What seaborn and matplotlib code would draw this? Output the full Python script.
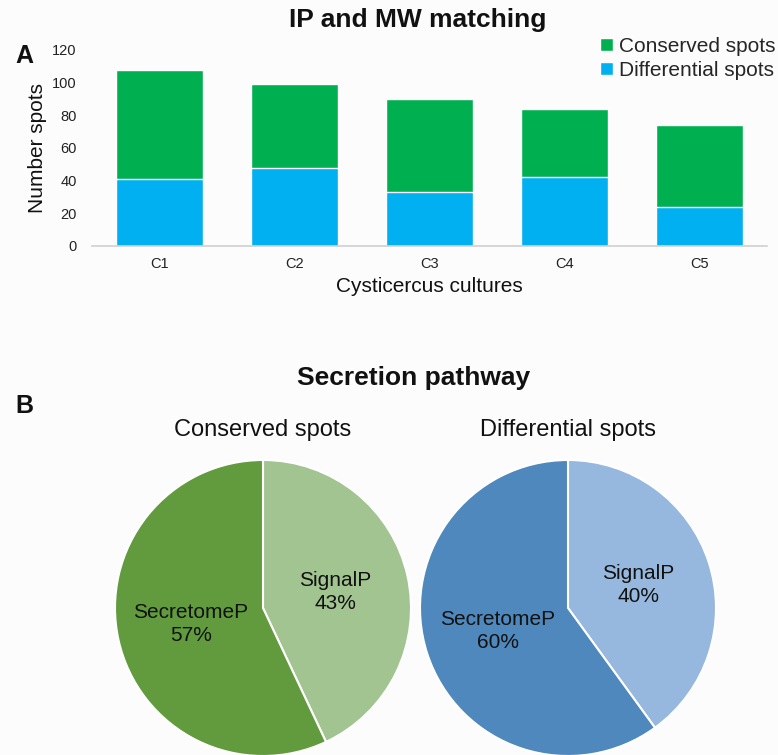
import matplotlib
matplotlib.use("Agg")
import matplotlib.pyplot as plt
import seaborn as sns
import pandas as pd

# Spot counts per cysticercus culture
cultures = ["C1", "C2", "C3", "C4", "C5"]
differential = [41, 48, 33, 42, 24]
conserved = [67, 51, 57, 42, 50]

# Secretion pathway shares (%)
pathways = ["SignalP", "SecretomeP"]
conserved_share = [43, 57]
differential_share = [40, 60]

sns.set_theme(style="white")
plt.rcParams["font.family"] = ["Liberation Sans", "DejaVu Sans"]

BG = "#fcfcfc"
fig = plt.figure(figsize=(7.78, 7.55), dpi=100, facecolor=BG)

# ---- Panel A: stacked bars ----
df = pd.DataFrame({
    "culture": cultures,
    "Differential spots": differential,
    "Conserved spots": conserved,
})
df["total"] = df["Differential spots"] + df["Conserved spots"]

axA = fig.add_axes([92 / 778, 1 - 246 / 755, 675 / 778, 196 / 755], facecolor=BG)
sns.barplot(data=df, x="culture", y="total", color="#00b050", width=0.64,
            saturation=1, ax=axA, label="Conserved spots")
sns.barplot(data=df, x="culture", y="Differential spots", color="#00b0f0",
            width=0.64, saturation=1, ax=axA, label="Differential spots")
axA.set_ylim(0, 120)
axA.set_yticks(range(0, 121, 20))
axA.tick_params(axis="both", labelsize=10.5, length=0, colors="#222222")
axA.tick_params(axis="y", pad=11)
axA.tick_params(axis="x", pad=8)
for s in ["top", "right", "left"]:
    axA.spines[s].set_visible(False)
axA.spines["bottom"].set_color("#d0d0d0")
axA.spines["bottom"].set_linewidth(1.2)
axA.set_xlabel("Cysticercus cultures", fontsize=15, labelpad=4, color="#111111")
axA.set_ylabel("Number spots", fontsize=15, labelpad=4, color="#111111")
leg = axA.legend(loc="upper right", bbox_to_anchor=(1.025, 1.11), frameon=False,
                 fontsize=15, handlelength=0.6, handleheight=0.6,
                 handletextpad=0.3, labelspacing=0.25, borderaxespad=0)

fig.text(418 / 778, 1 - 20 / 755, "IP and MW matching", ha="center", va="center",
         fontsize=19, fontweight="bold", color="#111111")
fig.text(24 / 778, 1 - 56 / 755, "A", ha="center", va="center",
         fontsize=18, fontweight="bold", color="#111111")

# ---- Panel B: pies ----
fig.text(414 / 778, 1 - 378 / 755, "Secretion pathway", ha="center", va="center",
         fontsize=19, fontweight="bold", color="#111111")
fig.text(24 / 778, 1 - 406 / 755, "B", ha="center", va="center",
         fontsize=18, fontweight="bold", color="#111111")


def draw_pie(cx, title, shares, colors):
    r = 148
    ax = fig.add_axes([(cx - r) / 778, 1 - (608 + r) / 755, 2 * r / 778, 2 * r / 755])
    ax.set_facecolor(BG)
    labels = [f"{n}\n{v}%" for n, v in zip(pathways, shares)]
    ax.pie(shares, labels=labels, colors=colors, startangle=90,
           counterclock=False, labeldistance=0.5,
           wedgeprops=dict(edgecolor="white", linewidth=1.5),
           textprops=dict(fontsize=15, color="#111111",
                          ha="center", va="center",
                          multialignment="center", linespacing=1.3))
    ax.set_xlim(-1.0, 1.0)
    ax.set_ylim(-1.0, 1.0)
    ax.set_aspect("equal")
    fig.text(cx / 778, 1 - 430 / 755, title, ha="center", va="center",
             fontsize=17, color="#111111")
    return ax


draw_pie(263, "Conserved spots", conserved_share, ["#a1c490", "#629b3e"])
draw_pie(568, "Differential spots", differential_share, ["#97b8de", "#4f88bc"])

fig.savefig("out.png", dpi=100, facecolor=BG)
